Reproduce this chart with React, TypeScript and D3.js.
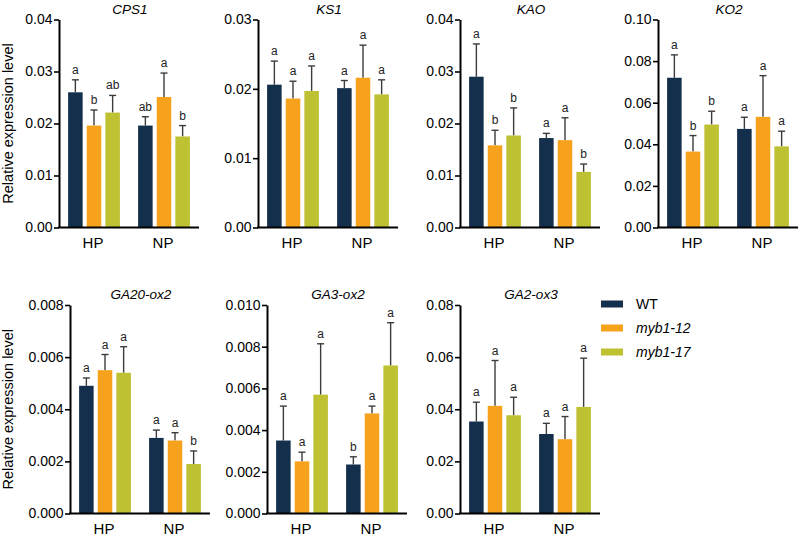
import React, { useEffect, useRef } from "react";
import * as d3 from "d3";

// groups and genotypes
const groups = ["HP", "NP"];
const genotypes = ["WT", "myb1-12", "myb1-17"];
const genotypeColors = ["#142f4b", "#f7a21d", "#bec132"];

// means / SD / letters, order: HP WT, HP myb1-12, HP myb1-17, NP WT, NP myb1-12, NP myb1-17
const cps1Mean = [0.026, 0.0196, 0.0221, 0.0196, 0.0251, 0.0175];
const cps1Sd = [0.0024, 0.003, 0.0033, 0.0017, 0.0046, 0.0021];
const cps1Sig = ["a", "b", "ab", "ab", "a", "b"];

const ks1Mean = [0.0206, 0.0186, 0.0197, 0.0201, 0.0216, 0.0192];
const ks1Sd = [0.0034, 0.0025, 0.0036, 0.0011, 0.0047, 0.0021];
const ks1Sig = ["a", "a", "a", "a", "a", "a"];

const kaoMean = [0.029, 0.0158, 0.0177, 0.0172, 0.0168, 0.0107];
const kaoSd = [0.0063, 0.0029, 0.0053, 0.0009, 0.0043, 0.0015];
const kaoSig = ["a", "b", "b", "a", "a", "b"];

const ko2Mean = [0.072, 0.0365, 0.0495, 0.0474, 0.0532, 0.039];
const ko2Sd = [0.011, 0.0077, 0.0064, 0.0056, 0.0198, 0.0073];
const ko2Sig = ["a", "b", "b", "a", "a", "a"];

const ga20Mean = [0.0049, 0.0055, 0.0054, 0.0029, 0.0028, 0.0019];
const ga20Sd = [0.0003, 0.0006, 0.001, 0.0003, 0.0003, 0.0005];
const ga20Sig = ["a", "a", "a", "a", "a", "b"];

const ga3Mean = [0.0035, 0.0025, 0.0057, 0.00235, 0.0048, 0.0071];
const ga3Sd = [0.00165, 0.00044, 0.00244, 0.00037, 0.00035, 0.00205];
const ga3Sig = ["a", "a", "a", "b", "a", "a"];

const ga2Mean = [0.0353, 0.0413, 0.0377, 0.0305, 0.0285, 0.0409];
const ga2Sd = [0.0074, 0.0174, 0.0069, 0.0041, 0.0087, 0.0187];
const ga2Sig = ["a", "a", "a", "a", "a", "a"];

// panel setup (layout in left/row, axis max/step/format)
const panels = [
  { title: "CPS1", mean: cps1Mean, sd: cps1Sd, sig: cps1Sig, max: 0.04, step: 0.01, fmt: ".2f", left: 59, row: 0, ylab: true },
  { title: "KS1", mean: ks1Mean, sd: ks1Sd, sig: ks1Sig, max: 0.03, step: 0.01, fmt: ".2f", left: 258, row: 0, ylab: false },
  { title: "KAO", mean: kaoMean, sd: kaoSd, sig: kaoSig, max: 0.04, step: 0.01, fmt: ".2f", left: 460, row: 0, ylab: false },
  { title: "KO2", mean: ko2Mean, sd: ko2Sd, sig: ko2Sig, max: 0.1, step: 0.02, fmt: ".2f", left: 658, row: 0, ylab: false },
  { title: "GA20-ox2", mean: ga20Mean, sd: ga20Sd, sig: ga20Sig, max: 0.008, step: 0.002, fmt: ".3f", left: 70, row: 1, ylab: true },
  { title: "GA3-ox2", mean: ga3Mean, sd: ga3Sd, sig: ga3Sig, max: 0.01, step: 0.002, fmt: ".3f", left: 267, row: 1, ylab: false },
  { title: "GA2-ox3", mean: ga2Mean, sd: ga2Sd, sig: ga2Sig, max: 0.08, step: 0.02, fmt: ".2f", left: 460, row: 1, ylab: false },
];

const rowTop = [19.5, 305];
const rowBottom = [227.5, 513.5];
const panelW = 140;
const font = "'Liberation Sans', Arial, sans-serif";

const App = () => {
  const ref = useRef<SVGSVGElement>(null);

  useEffect(() => {
    const svg = d3.select(ref.current);
    svg.selectAll("*").remove();

    panels.forEach((p) => {
      const top = rowTop[p.row];
      const bottom = rowBottom[p.row];
      const y = d3.scaleLinear().domain([0, p.max]).range([bottom, top]);
      const x0 = d3
        .scaleBand()
        .domain(groups)
        .range([p.left, p.left + panelW])
        .paddingInner(0.26)
        .paddingOuter(0.13);
      const x1 = d3
        .scaleBand()
        .domain(genotypes)
        .range([0, x0.bandwidth()])
        .paddingInner(0.22);

      const g = svg.append("g");

      // bars, error bars, letters
      groups.forEach((grp, gi) => {
        genotypes.forEach((gt, ti) => {
          const i = gi * 3 + ti;
          const m = p.mean[i];
          const hi = m + p.sd[i];
          const bx = (x0(grp) as number) + (x1(gt) as number);
          const cx = bx + x1.bandwidth() / 2;

          g.append("line")
            .attr("x1", cx)
            .attr("x2", cx)
            .attr("y1", y(m))
            .attr("y2", y(hi))
            .attr("stroke", "#3c3c3c")
            .attr("stroke-width", 1.4);
          g.append("line")
            .attr("x1", cx - 3.5)
            .attr("x2", cx + 3.5)
            .attr("y1", y(hi))
            .attr("y2", y(hi))
            .attr("stroke", "#3c3c3c")
            .attr("stroke-width", 1.4);

          g.append("rect")
            .attr("x", bx)
            .attr("y", y(m))
            .attr("width", x1.bandwidth())
            .attr("height", y(0) - y(m))
            .attr("fill", genotypeColors[ti]);

          g.append("text")
            .attr("x", cx)
            .attr("y", y(hi) - 6)
            .attr("text-anchor", "middle")
            .style("font-family", font)
            .style("font-size", "12px")
            .attr("fill", "#222")
            .text(p.sig[i]);
        });
      });

      // y axis
      const axis = d3
        .axisLeft(y)
        .tickValues(d3.range(0, p.max + p.step / 2, p.step))
        .tickFormat(d3.format(p.fmt))
        .tickSize(5)
        .tickSizeOuter(0)
        .tickPadding(1.5);
      const ax = g.append("g").attr("transform", `translate(${p.left},0)`).call(axis);
      ax.select(".domain").attr("stroke", "#000").attr("stroke-width", 2);
      ax.selectAll(".tick line").attr("stroke", "#000").attr("stroke-width", 1.6);
      ax.selectAll(".tick text")
        .attr("fill", "#000")
        .style("font-family", font)
        .style("font-size", "14px");

      // x baseline
      g.append("line")
        .attr("x1", p.left - 1)
        .attr("x2", p.left + panelW)
        .attr("y1", y(0))
        .attr("y2", y(0))
        .attr("stroke", "#000")
        .attr("stroke-width", 2);

      // group labels
      groups.forEach((grp) => {
        g.append("text")
          .attr("x", (x0(grp) as number) + x0.bandwidth() / 2 - 1)
          .attr("y", bottom + 20)
          .attr("text-anchor", "middle")
          .style("font-family", font)
          .style("font-size", "15px")
          .text(grp);
      });

      // title
      g.append("text")
        .attr("x", p.left + panelW / 2 + 1)
        .attr("y", top - 6)
        .attr("text-anchor", "middle")
        .style("font-family", font)
        .style("font-size", "13.5px")
        .style("font-style", "italic")
        .text(p.title);

      if (p.ylab) {
        g.append("text")
          .attr("transform", `translate(13,${(top + bottom) / 2}) rotate(-90)`)
          .attr("text-anchor", "middle")
          .style("font-family", font)
          .style("font-size", "14.5px")
          .text("Relative expression level");
      }
    });

    // legend
    const legend = svg.append("g");
    genotypes.forEach((gt, i) => {
      const ly = 304 + i * 24;
      legend
        .append("rect")
        .attr("x", 601)
        .attr("y", ly - 3.5)
        .attr("width", 22)
        .attr("height", 7)
        .attr("fill", genotypeColors[i]);
      legend
        .append("text")
        .attr("x", 636)
        .attr("y", ly + 5)
        .style("font-family", font)
        .style("font-size", "14px")
        .style("font-style", i === 0 ? "normal" : "italic")
        .text(gt);
    });
  }, []);

  return (
    <svg
      ref={ref}
      width={799}
      height={536}
      style={{ position: "absolute", left: 0, top: 0, background: "#fff" }}
    />
  );
};

export default App;
